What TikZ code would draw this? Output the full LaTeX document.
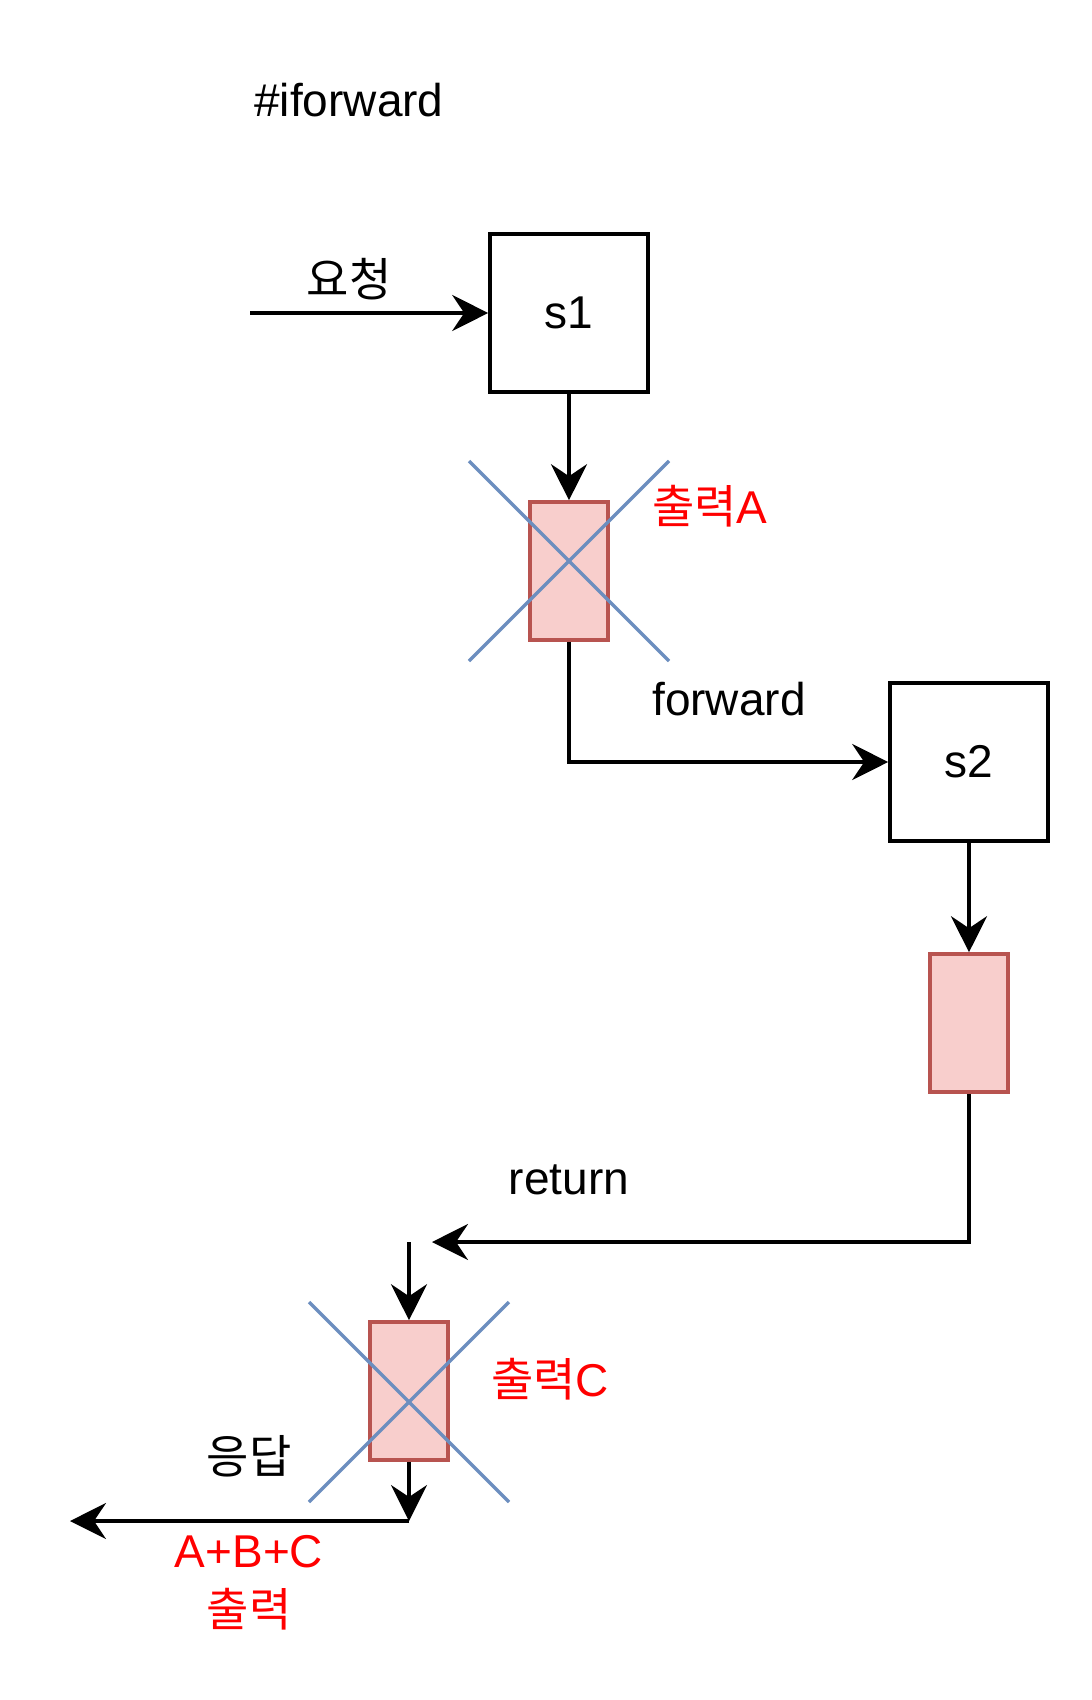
\documentclass[tikz,border=0pt]{standalone}
\usepackage{fontspec}
\setmainfont{Liberation Sans}
\newfontfamily\kr{Noto Sans CJK KR}
\usetikzlibrary{arrows.meta,calc}
\definecolor{boxred}{HTML}{B85450}
\definecolor{boxfill}{HTML}{F8CECC}
\definecolor{xblue}{HTML}{6C8EBF}
\definecolor{lblred}{HTML}{FF0000}
\begin{document}
\begin{tikzpicture}[x=1pt,y=-1pt,
  sbox/.style={draw, line width=3.6pt, minimum width=158pt, minimum height=158pt, inner sep=0pt, font=\fontsize{46}{55}\selectfont},
  pbox/.style={draw=boxred, fill=boxfill, line width=3.6pt, minimum width=78pt, minimum height=138pt, inner sep=0pt},
  xline/.style={draw=xblue, line width=3.4pt},
  conn/.style={line width=3.6pt, -{Stealth[length=36pt,width=36pt,inset=12pt]}},
  lbl/.style={font=\fontsize{46}{55}\selectfont, inner sep=0pt, align=center},
  rlbl/.style={lbl, text=lblred}]
\useasboundingbox (0,0) rectangle (1092,1700);
\fill[white] (0,0) rectangle (1092,1700);

\node[lbl] (title) at (349,100) {\#iforward};

\node[sbox] (s1) at (569,313) {s1};
\node[sbox] (s2) at (969,762) {s2};

\node[pbox] (pa) at (569,571) {};
\node[pbox] (pb) at (969,1023) {};
\node[pbox] (pc) at (409,1391) {};

% crosses
\draw[xline] (469,461) -- (669,661);
\draw[xline] (669,461) -- (469,661);
\draw[xline] (309,1302) -- (509,1502);
\draw[xline] (509,1302) -- (309,1502);

\coordinate (in) at (250,313);
\coordinate (fwdc) at (569,762);
\coordinate (retc) at (969,1242);
\coordinate (retend) at (432,1242);
\coordinate (cstart) at (409,1242);
\coordinate (outc) at (409,1521);
\coordinate (outend) at (70,1521);

\draw[conn] (in) -- (s1.west);
\draw[conn] (s1.south) -- (pa.north);
\draw[conn] (pa.south) -- (fwdc) -- (s2.west);
\draw[conn] (s2.south) -- (pb.north);
\draw[conn] (pb.south) -- (retc) -- (retend);
\draw[conn] (cstart) -- (pc.north);
\draw[conn] (pc.south) -- (outc);
\draw[conn] (outc) -- (outend);

\node[lbl] (lreq) at (349,279) {\kr 요청};
\node[rlbl] (la) at (710,506) {\kr 출력\fontspec{Liberation Sans}A};
\node[lbl] (lfwd) at (729,699) {forward};
\node[lbl] (lret) at (569,1180) {return};
\node[rlbl] (lc) at (550,1379) {\kr 출력\fontspec{Liberation Sans}C};
\node[lbl] (lresp) at (249,1456) {\kr 응답};
\node[rlbl] (labc) at (249,1552) {A+B+C};
\node[rlbl] (lout) at (249,1609) {\kr 출력};
\end{tikzpicture}
\end{document}
